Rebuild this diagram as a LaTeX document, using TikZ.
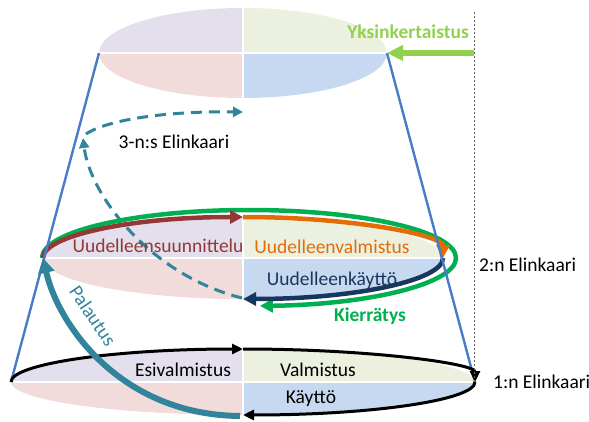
\documentclass[tikz,border=0pt]{standalone}
\usepackage{fontspec}
\setmainfont{Carlito}
\usetikzlibrary{arrows.meta}
\definecolor{lavq}{HTML}{E4DFEC}
\definecolor{greq}{HTML}{EBF1DE}
\definecolor{pinkq}{HTML}{F2DCDB}
\definecolor{blueq}{HTML}{C6D9F1}
\definecolor{dred}{HTML}{953735}
\definecolor{orng}{HTML}{E36C09}
\definecolor{navy}{HTML}{17375E}
\definecolor{kgreen}{HTML}{00B050}
\definecolor{lime}{HTML}{92D050}
\definecolor{teal}{HTML}{31849B}
\definecolor{cone}{HTML}{4A7BC8}
\newcommand\ellquad[4]{%
  \begin{scope}[shift={(#1,#2)}]
    \fill[lavq] (0,0) -- (-#3,0) arc[start angle=180,end angle=270,x radius=#3,y radius=#4] -- cycle;
    \fill[greq] (0,0) -- (0,-#4) arc[start angle=270,end angle=360,x radius=#3,y radius=#4] -- cycle;
    \fill[blueq] (0,0) -- (#3,0) arc[start angle=0,end angle=90,x radius=#3,y radius=#4] -- cycle;
    \fill[pinkq] (0,0) -- (0,#4) arc[start angle=90,end angle=180,x radius=#3,y radius=#4] -- cycle;
    \draw[white,line width=1.5pt] (-#3,0) -- (#3,0) (0,-#4) -- (0,#4);
  \end{scope}}
\tikzset{
  lbl/.style={inner sep=0pt,font=\fontsize{19.5}{23}\selectfont},
  boldlbl/.style={inner sep=0pt,font=\fontsize{19.5}{23}\selectfont\bfseries},
  arcarrow/.style={line width=4.5pt,-{Triangle[length=13pt,width=13pt]}},
  blackarrow/.style={line width=3pt,black,-{Triangle[length=11pt,width=10pt]}},
  conestyle/.style={cone,line width=2.4pt},
  dasharrow/.style={teal,line width=3pt,dash pattern=on 11pt off 7pt,-{Triangle[length=10pt,width=10pt]}},
  palarrow/.style={teal,line width=6pt,-{Triangle[length=15pt,width=16pt]}},
  limearrow/.style={lime,line width=5.5pt,-{Triangle[length=16pt,width=15pt]}},
  vdots/.style={gray!80!black,line width=0.8pt,dash pattern=on 2pt off 2pt}
}
\begin{document}
\begin{tikzpicture}[x=1pt,y=-1pt]
\useasboundingbox (0,0) rectangle (589,422);
% key points
\coordinate (TL) at (99,53);
\coordinate (TR) at (387,53);
\coordinate (ML) at (43,258);
\coordinate (MR) at (443,258);
\coordinate (MT) at (243,217);
\coordinate (GL) at (42,258);
\coordinate (BL) at (11,382);
\coordinate (BR) at (475,382);
\coordinate (BT) at (243,349);
\coordinate (D0) at (242,298);
\coordinate (D1) at (83,138);
\coordinate (D2) at (86,134);
\coordinate (D3) at (243,112);
\coordinate (P0) at (240,416);
\coordinate (Y0) at (474,53);
\coordinate (V0) at (474,12);
\coordinate (V1) at (474,382);
% ellipses
\ellquad{243}{53}{144}{45}
\ellquad{243}{258}{200}{41}
\ellquad{243}{382}{232}{33}
% 3-n dashed arrows
\draw[dasharrow] (D0) .. controls (150,275) and (90,195) .. (D1);
\draw[dasharrow] (D2) .. controls (105,121) and (160,111) .. (D3);
% middle ellipse arrows
\draw[kgreen,line width=4.5pt,-{Triangle[length=13pt,width=13pt]}] (GL) arc[start angle=180,end angle=447,x radius=207,y radius=48];
\draw[arcarrow,dred] (ML) arc[start angle=180,end angle=270,x radius=200,y radius=41];
\draw[arcarrow,orng] (MT) arc[start angle=270,end angle=360,x radius=200,y radius=41];
\draw[arcarrow,navy] (MR) arc[start angle=0,end angle=90,x radius=200,y radius=41];
% texts
\node[lbl] (t3) at (174,142) {3-n:s Elinkaari};
\node[lbl,anchor=west] (t2) at (479,265) {2:n Elinkaari};
\node[lbl,anchor=west] (t1) at (493,382) {1:n Elinkaari};
\node[boldlbl,anchor=east,lime] (ty) at (469,32) {Yksinkertaistus};
\node[lbl,dred] (tus) at (158,246) {Uudelleensuunnittelu};
\node[lbl,orng] (tuv) at (332,247) {Uudelleenvalmistus};
\node[lbl,navy] (tuk) at (332,280) {Uudelleenkäyttö};
\node[boldlbl,kgreen] (tk) at (370,316) {Kierrätys};
\node[lbl] (te) at (183,370) {Esivalmistus};
\node[lbl] (tv) at (318,370) {Valmistus};
\node[lbl] (tka) at (311,399) {Käyttö};
\node[lbl,teal,rotate=-56] (tp) at (93,316) {Palautus};
% cone
\draw[conestyle] (TL) -- (BL);
\draw[conestyle] (TR) -- (BR);
% bottom arrows
\draw[blackarrow] (BL) arc[start angle=180,end angle=270,x radius=232,y radius=33];
\draw[blackarrow] (BT) arc[start angle=270,end angle=360,x radius=232,y radius=33];
\draw[blackarrow] (BR) arc[start angle=0,end angle=90,x radius=232,y radius=33];
% palautus
\draw[palarrow] (P0) .. controls (120,415) and (58,324) .. (ML);
% yksinkertaistus
\draw[limearrow] (Y0) -- (TR);
% dotted
\draw[vdots] (V0) -- (V1);
\end{tikzpicture}
\end{document}
